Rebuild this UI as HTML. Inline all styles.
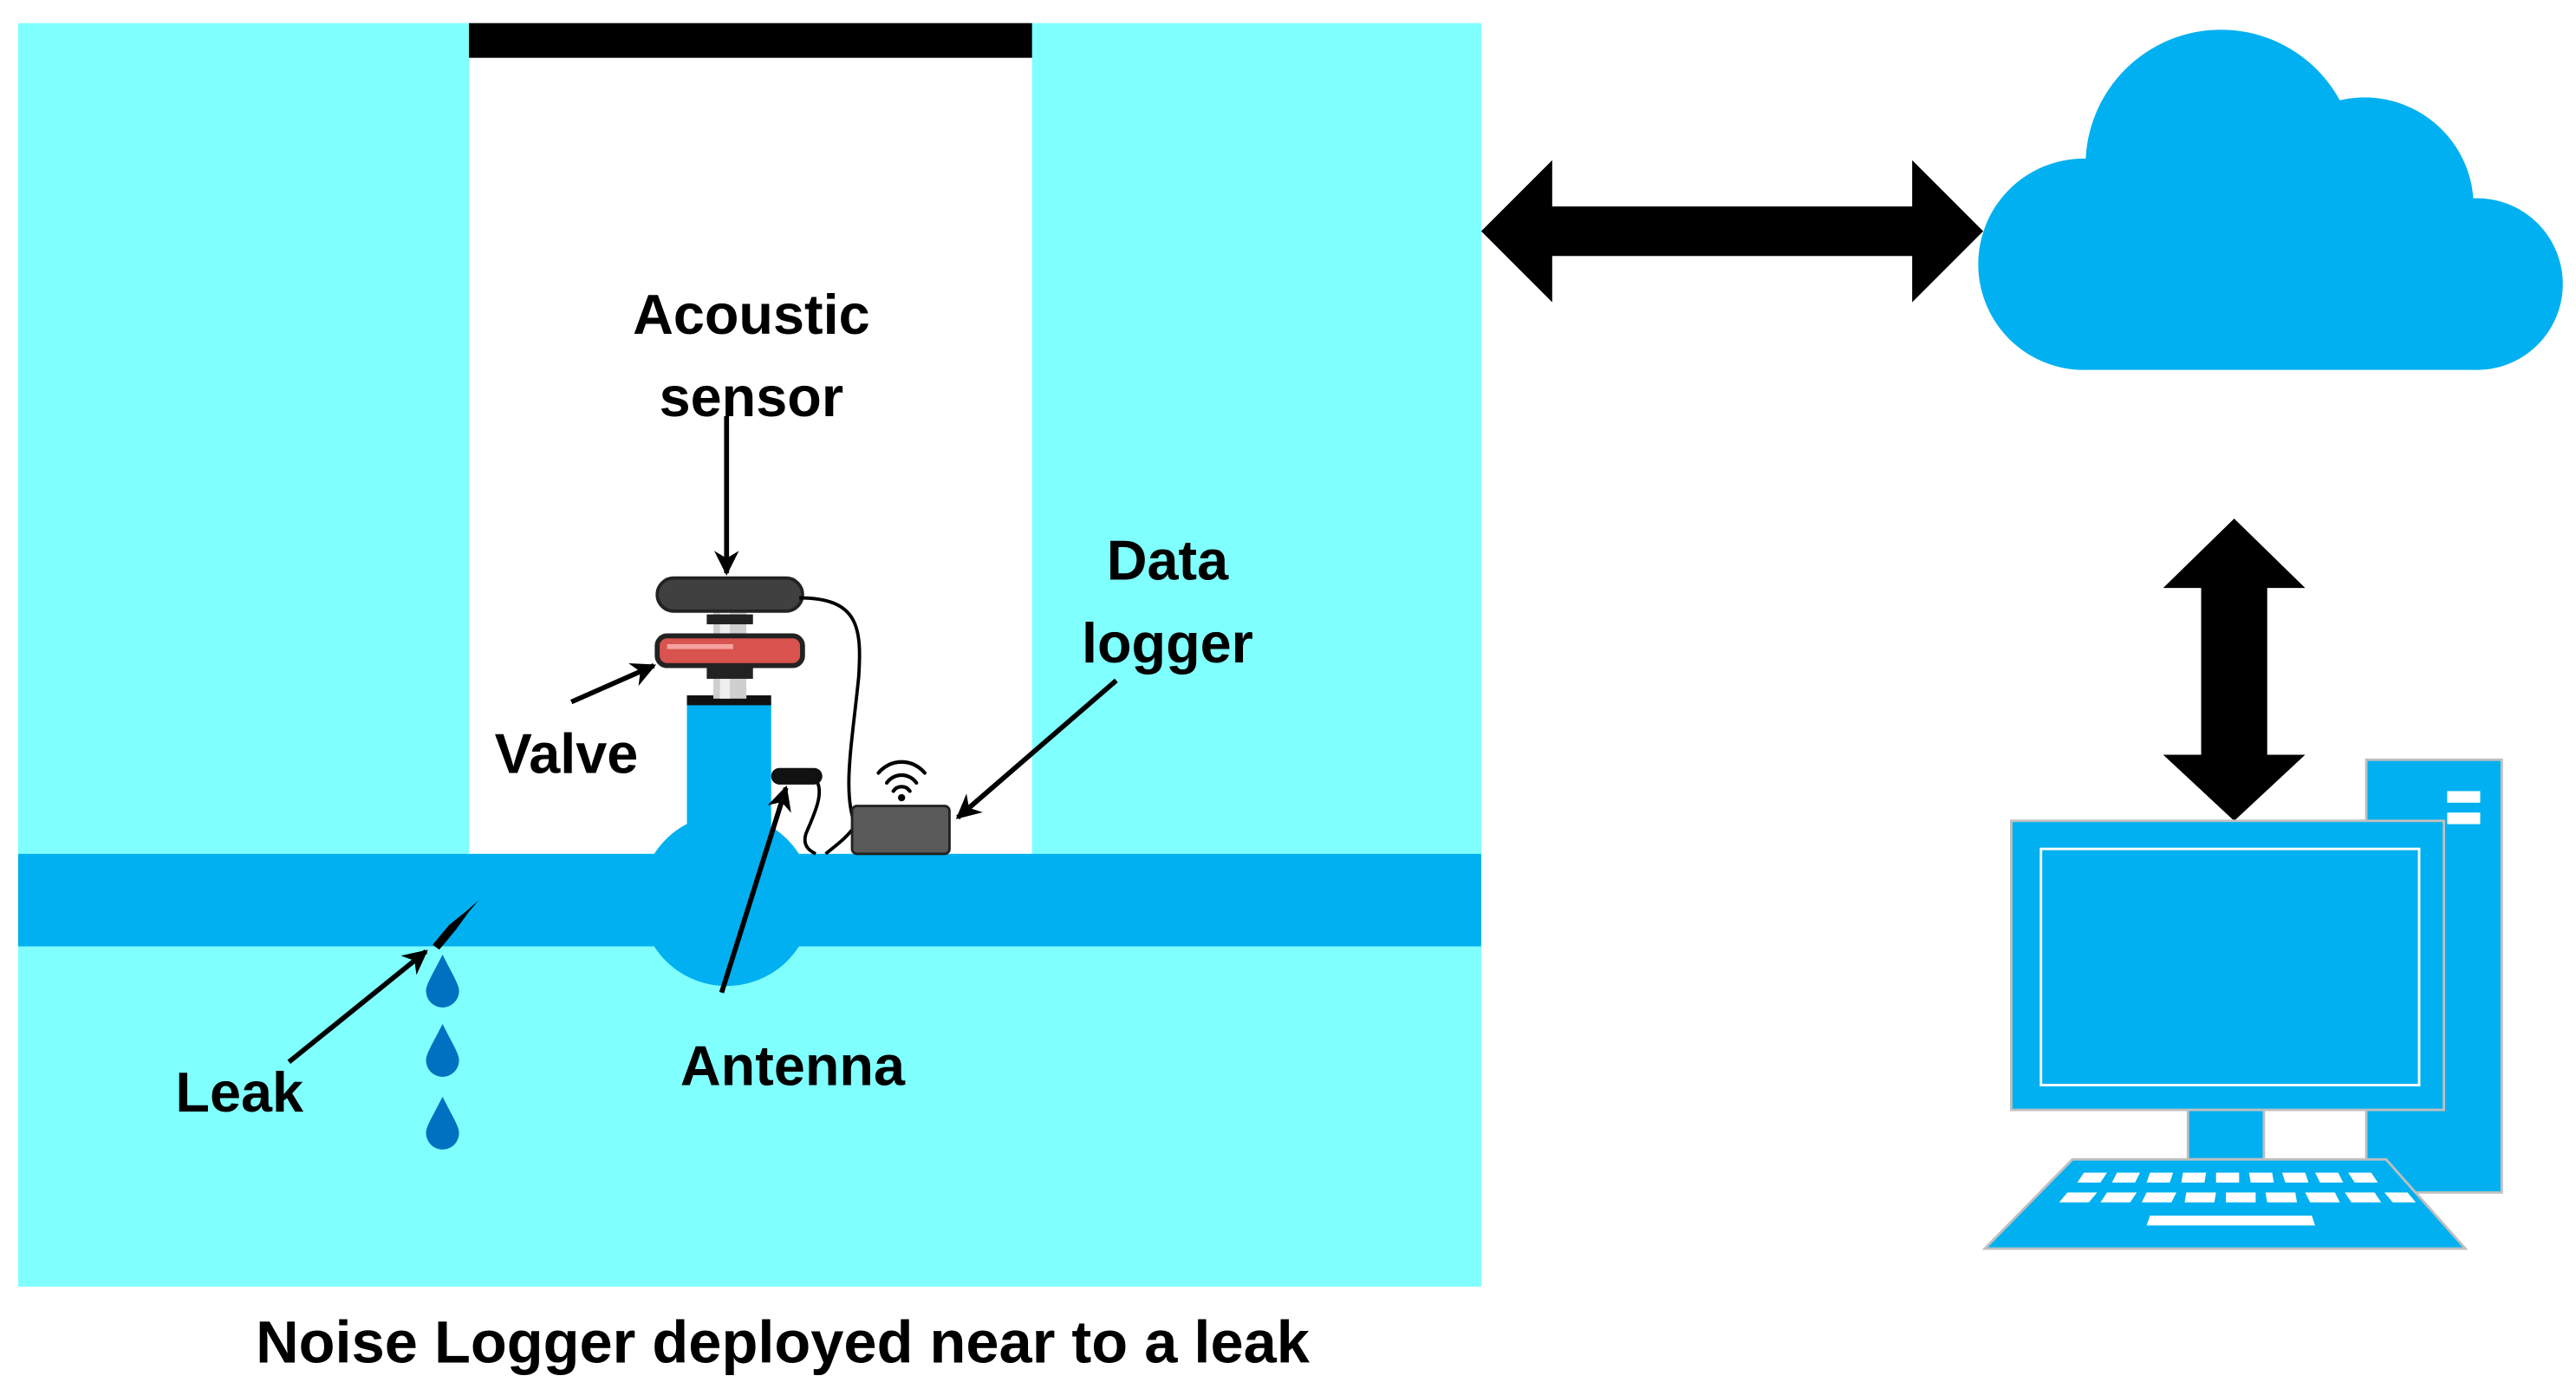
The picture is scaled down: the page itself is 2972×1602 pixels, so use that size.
<!DOCTYPE html>
<html><head><meta charset="utf-8"><style>
html,body{margin:0;padding:0;background:#fff;}
svg{display:block;}
text{font-family:"Liberation Sans",sans-serif;font-weight:bold;fill:#000;}
</style></head><body>
<svg width="2972" height="1602" viewBox="0 0 1560 841" preserveAspectRatio="none" xmlns="http://www.w3.org/2000/svg">
<defs>
<marker id="ah" viewBox="0 0 10 10" refX="9" refY="5" markerWidth="5" markerHeight="5" orient="auto"><path d="M0,0 L10,5 L0,10 L3,5 z" fill="#000"/></marker>
<clipPath id="cc"><rect x="1100" y="0" width="460" height="224"/></clipPath>
</defs>
<rect width="1560" height="841" fill="#fff"/>
<rect x="11" y="14" width="886" height="765" fill="#80FFFF"/>
<rect x="284" y="14" width="341" height="503" fill="#fff"/>
<rect x="284" y="14" width="341" height="21" fill="#000"/>
<circle cx="440" cy="545" r="52" fill="#00B0F0"/>
<rect x="11" y="517" width="886" height="56" fill="#00B0F0"/>
<rect x="416" y="425" width="51" height="92" fill="#00B0F0"/>
<rect x="416" y="421" width="51" height="6" fill="#111"/>
<rect x="432" y="368" width="20" height="55" fill="#cfcfcf"/>
<rect x="436" y="368" width="6" height="55" fill="#eee"/>
<rect x="428" y="403" width="28" height="8" fill="#222"/>
<rect x="428" y="372" width="28" height="6" fill="#222"/>
<rect x="398" y="385" width="88" height="18" rx="6" fill="#d9534f" stroke="#222" stroke-width="3"/>
<rect x="404" y="390" width="40" height="3" fill="#f4a3a0"/>
<rect x="398" y="350" width="88" height="20" rx="10" fill="#404040" stroke="#222" stroke-width="2"/>
<path d="M484,362 C520,362 522,380 520,410 C516,450 510,480 518,500" fill="none" stroke="#000" stroke-width="2"/>
<path d="M518,500 C512,508 506,512 500,517" fill="none" stroke="#000" stroke-width="2"/>
<path d="M494,472 C500,480 492,495 488,505 C486,512 490,515 494,517" fill="none" stroke="#000" stroke-width="2"/>
<rect x="467" y="465" width="31" height="10" rx="5" fill="#111"/>
<rect x="516" y="488" width="59" height="29" rx="3" fill="#595959" stroke="#222" stroke-width="1.5"/>
<g fill="none" stroke="#000" stroke-width="2.2" stroke-linecap="round">
<path d="M532,468 A18,18 0 0 1 560,468"/>
<path d="M537,474 A11,11 0 0 1 555,474"/>
<path d="M541,479 A6,6 0 0 1 551,479"/>
</g>
<circle cx="546" cy="483" r="2.2" fill="#000"/>
<path d="M262,572 L272,560 L282,552 L290,545 L284,552 L276,563 L266,575 z" fill="#000"/>
<g fill="#0070C0">
<path d="M268,578 C262,590 258,596 258,600 A10,10 0 0 0 278,600 C278,596 274,590 268,578z"/>
<path d="M268,620 C262,632 258,638 258,642 A10,10 0 0 0 278,642 C278,638 274,632 268,620z"/>
<path d="M268,664 C262,676 258,682 258,686 A10,10 0 0 0 278,686 C278,682 274,676 268,664z"/>
</g>
<g stroke="#000" stroke-width="3" fill="none" marker-end="url(#ah)">
<line x1="440" y1="252" x2="440" y2="347"/>
<line x1="346" y1="425" x2="396" y2="403"/>
<line x1="676" y1="412" x2="580" y2="495"/>
<line x1="437" y1="601" x2="476" y2="477"/>
<line x1="175" y1="643" x2="258" y2="576"/>
</g>
<g font-size="34" text-anchor="middle">
<text x="455" y="202">Acoustic</text>
<text x="455" y="252">sensor</text>
<text x="343" y="468">Valve</text>
<text x="707" y="351">Data</text>
<text x="707" y="401">logger</text>
<text x="480" y="657">Antenna</text>
<text x="145" y="673">Leak</text>
<text x="474" y="825" font-size="36">Noise Logger deployed near to a leak</text>
</g>
<polygon points="897,140 940,97 940,125 1158,125 1158,97 1201,140 1158,183 1158,155 940,155 940,183" fill="#000"/>
<g fill="#00B0F0" clip-path="url(#cc)">
<circle cx="1345" cy="100" r="82"/>
<circle cx="1432" cy="125" r="66"/>
<circle cx="1262" cy="160" r="64"/>
<circle cx="1500" cy="172" r="52"/>
<rect x="1262" y="140" width="240" height="84"/>
</g>
<polygon points="1353,314 1396,356 1373,356 1373,457 1396,457 1353,497 1310,457 1333,457 1333,356 1310,356" fill="#000"/>
<g stroke="#BFBFBF" stroke-width="1.5" fill="#00B0F0">
<rect x="1433" y="460" width="82" height="262"/>
<rect x="1325" y="670" width="46" height="32"/>
<rect x="1218" y="497" width="262" height="175"/>
<polygon points="1255,702 1445,702 1493,756 1202,756"/>
</g>
<rect x="1236" y="514" width="229" height="143" fill="none" stroke="#fff" stroke-width="1.5"/>
<rect x="1482" y="479" width="20" height="7" fill="#fff"/>
<rect x="1482" y="492" width="20" height="7" fill="#fff"/>
<g fill="#fff">
<path d="M1262,710h14l-4,6h-14z M1282,710h14l-3,6h-14z M1302,710h14l-2,6h-14z M1322,710h14l-1,6h-14z M1342,710h14v6h-14z M1362,710h14l1,6h-14z M1382,710h14l2,6h-14z M1402,710h14l3,6h-14z M1422,710h14l4,6h-14z"/>
<path d="M1252,722h18l-5,6h-18z M1276,722h18l-4,6h-18z M1300,722h18l-3,6h-18z M1324,722h18l-1,6h-18z M1348,722h18v6h-18z M1372,722h18l1,6h-18z M1396,722h18l3,6h-18z M1420,722h18l4,6h-18z M1444,722h14l5,6h-14z"/>
<path d="M1302,736h98l2,6h-102z"/>
</g>
</svg>
</body></html>
